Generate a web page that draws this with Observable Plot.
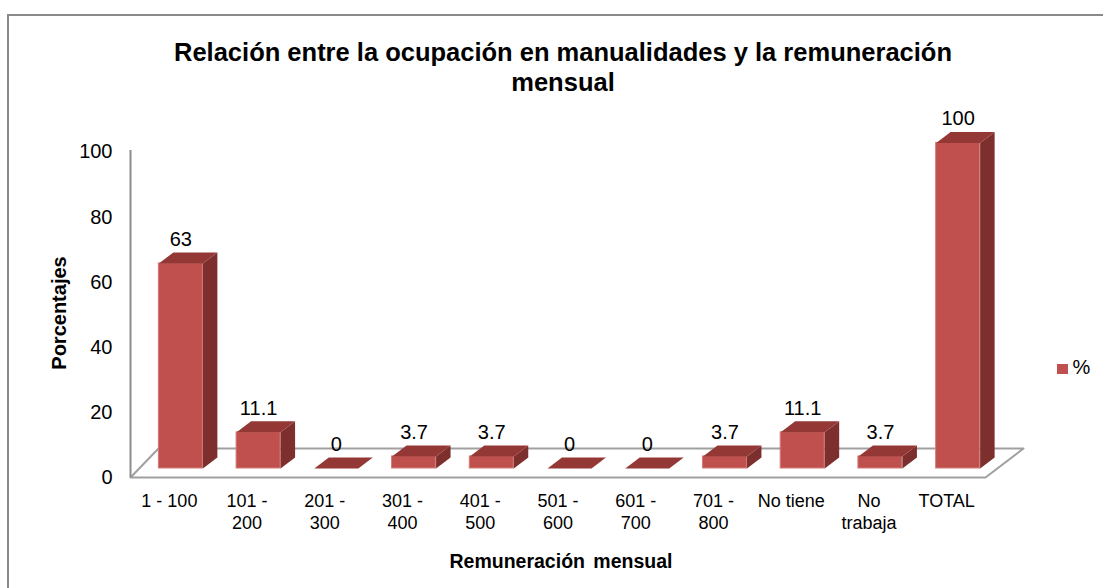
<!DOCTYPE html>
<html><head><meta charset="utf-8">
<script src="https://cdn.jsdelivr.net/npm/d3@7"></script>
<script src="https://cdn.jsdelivr.net/npm/@observablehq/plot@0.6"></script>
<style>
html,body{margin:0;padding:0;background:#fff;}
#wrap{position:relative;width:1103px;height:588px;overflow:hidden;font-family:"Liberation Sans",Arial,sans-serif;color:#000;}
#border{position:absolute;left:7px;top:14px;width:1300px;height:900px;border:2px solid #8a8a8a;box-sizing:border-box;}
#plot{position:absolute;left:0;top:0;}
#title{position:absolute;left:13px;width:1100px;top:37px;text-align:center;font-weight:bold;font-size:25.5px;line-height:30px;}
#ylab{position:absolute;left:59px;top:313px;transform:translate(-50%,-50%) rotate(-90deg);font-weight:bold;font-size:20px;white-space:nowrap;line-height:20px;}
#xlab{position:absolute;left:0;width:1122px;top:551px;text-align:center;font-weight:bold;font-size:19.5px;line-height:20px;word-spacing:3px;}
#legend{position:absolute;left:1057px;top:356px;height:22px;display:flex;align-items:center;font-size:20px;}
#legend .sw{width:10.5px;height:10.5px;background:#C0504D;margin-right:5px;margin-top:4px;}
</style>
</head><body>
<div id="wrap">
  <div id="border"></div>
  <div id="plot"></div>
  <div id="title">Relación entre la ocupación en manualidades y la remuneración<br>mensual</div>
  <div id="ylab">Porcentajes</div>
  <div id="xlab">Remuneración mensual</div>
  <div id="legend"><div class="sw"></div><span id="legname"></span></div>
</div>
<script>
// ---- data ----
const categories = ["1 - 100", "101 -\n200", "201 -\n300", "301 -\n400", "401 -\n500", "501 -\n600", "601 -\n700", "701 -\n800", "No tiene", "No\ntrabaja", "TOTAL"];
const values = [63, 11.1, 0, 3.7, 3.7, 0, 0, 3.7, 11.1, 3.7, 100];
const yTicks = [0, 20, 40, 60, 80, 100];
const seriesName = "%";

document.getElementById("legname").textContent = seriesName;

// ---- layout ----
const W = 1103, H = 588, ML = 130, MR = 118, MT = 151.5, MB = 111;
const n = categories.length;
const xUnit = (W - ML - MR) / n;      // px per category
const yUnit = (H - MT - MB) / 100;    // px per percent
const shiftX = 11.5, shiftY = -9;     // bar front plane inside the floor depth (px)
const halfW = 22 / xUnit;
const depX = 14.5 / xUnit, depY = 11 / yUnit;

const bars = categories.map((c, i) => ({c, i, v: values[i], xc: i + 0.5, x1: i + 0.5 - halfW, x2: i + 0.5 + halfW}));

const sidePts = bars.flatMap(b => [[b.x2, 0], [b.x2, b.v], [b.x2 + depX, b.v + depY], [b.x2 + depX, depY], [b.x2, 0]]
  .map(([x, y]) => ({id: b.i, x, y})));
const topPts = bars.flatMap(b => [[b.x1, b.v], [b.x2, b.v], [b.x2 + depX, b.v + depY], [b.x1 + depX, b.v + depY], [b.x1, b.v]]
  .map(([x, y]) => ({id: b.i, x, y})));

const floorDepthY = 29 / yUnit;
const floorPts = [[0, 0], [n, 0], [n + 38 / xUnit, floorDepthY], [28 / xUnit, floorDepthY], [0, 0]].map(([x, y]) => ({x, y}));

const chart = Plot.plot({
  width: W, height: H,
  marginLeft: ML, marginRight: MR, marginTop: MT, marginBottom: MB,
  style: {fontFamily: '"Liberation Sans", Arial, sans-serif', background: "transparent", color: "#000", overflow: "visible"},
  x: {domain: [0, n], axis: null},
  y: {domain: [0, 100], axis: null},
  marks: [
    Plot.line(floorPts, {x: "x", y: "y", fill: "#fff", stroke: "#a0a0a0", strokeWidth: 2}),
    Plot.ruleX([0], {y1: 0, y2: 100 + 1.5 / yUnit, stroke: "#8c8c8c", strokeWidth: 2}),
    Plot.rect(bars.filter(b => b.v > 0), {x1: "x1", x2: "x2", y1: 0, y2: "v", dx: shiftX, dy: shiftY, fill: "#C0504D", stroke: "#d47c79", strokeWidth: 1}),
    Plot.line(sidePts, {x: "x", y: "y", z: "id", fill: "#7d2f2d", stroke: "none", dx: shiftX, dy: shiftY}),
    Plot.line(topPts, {x: "x", y: "y", z: "id", fill: "#943836", stroke: "none", dx: shiftX, dy: shiftY}),
    Plot.text(bars, {x: "xc", y: "v", text: d => String(d.v), dx: shiftX, dy: shiftY - 11 - 13, fontSize: 20, fill: "#000"}),
    Plot.text(bars, {x: "xc", y: 0, text: "c", lineAnchor: "top", dy: 14.6, fontSize: 18, lineHeight: 1.2, fill: "#000"}),
    Plot.axisY({ticks: yTicks, tickSize: 0, tickPadding: 18, fontSize: 20, label: null, fill: "#000"})
  ]
});
document.getElementById("plot").appendChild(chart);
</script>
</body></html>
